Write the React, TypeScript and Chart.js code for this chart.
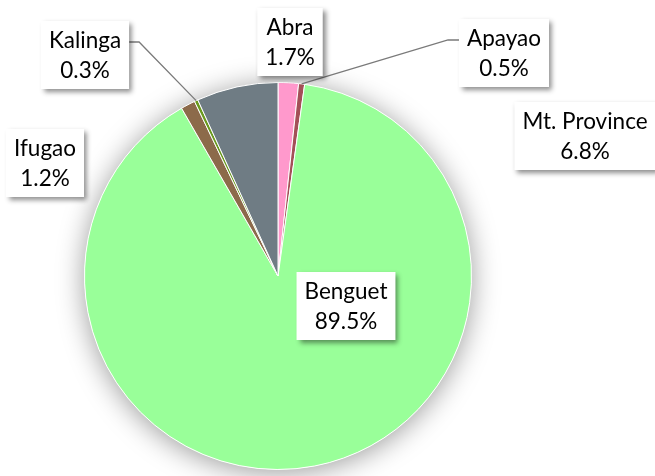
import { useEffect, useRef } from "react";
import { Chart, registerables } from "chart.js";

Chart.register(...registerables);

const provinces = ["Abra", "Apayao", "Benguet", "Ifugao", "Kalinga", "Mt. Province"];
const shares = [1.7, 0.5, 89.5, 1.2, 0.3, 6.8];
const percentLabels = ["1.7%", "0.5%", "89.5%", "1.2%", "0.3%", "6.8%"];
const sliceColors = ["#ff99cc", "#a34f57", "#99ff99", "#8c6a4a", "#6b9a1f", "#6f7c84"];

// label box centre offsets from the pie centre (pixels) and leader line side
const labelOffsets: [number, number][] = [
  [12, -234],
  [226, -223],
  [68, 30],
  [-233, -113],
  [-193, -221],
  [307, -140],
];
const leaderSides: (string | null)[] = [null, "left", null, null, "right", null];

const FONT = "22.5px Lato, 'Open Sans', sans-serif";

const pieShadow = {
  id: "pieShadow",
  beforeDatasetsDraw(chart: any) {
    const arc = chart.getDatasetMeta(0).data[0];
    if (!arc) return;
    const { x, y, outerRadius } = arc.getProps(["x", "y", "outerRadius"], true);
    const ctx = chart.ctx;
    ctx.save();
    ctx.shadowColor = "rgba(0,0,0,0.4)";
    ctx.shadowBlur = 28;
    ctx.shadowOffsetY = 3;
    ctx.fillStyle = "#ffffff";
    ctx.beginPath();
    ctx.arc(x, y, outerRadius, 0, Math.PI * 2);
    ctx.fill();
    ctx.restore();
  },
};

const boxLabels = {
  id: "boxLabels",
  afterDatasetsDraw(chart: any) {
    const meta = chart.getDatasetMeta(0);
    const ctx = chart.ctx;
    ctx.save();
    ctx.font = FONT;
    const boxes = meta.data.map((arc: any, i: number) => {
      const p = arc.getProps(["x", "y", "outerRadius", "startAngle", "endAngle"], true);
      const lines = [provinces[i], percentLabels[i]];
      const w = Math.max(...lines.map((t) => ctx.measureText(t).width)) + 16;
      const h = 68;
      const cx = p.x + labelOffsets[i][0];
      const cy = p.y + labelOffsets[i][1];
      return { p, lines, w, h, cx, cy, left: cx - w / 2, top: cy - h / 2 };
    });
    // leader lines
    boxes.forEach((b: any, i: number) => {
      const side = leaderSides[i];
      if (!side) return;
      const a = (b.p.startAngle + b.p.endAngle) / 2;
      const px = b.p.x + b.p.outerRadius * Math.cos(a);
      const py = b.p.y + b.p.outerRadius * Math.sin(a);
      const ay = b.top + 21;
      const ax = side === "right" ? b.left + b.w : b.left;
      const ex = side === "right" ? ax + 10 : ax - 11;
      ctx.strokeStyle = "#7a7a7a";
      ctx.lineWidth = 1.3;
      ctx.beginPath();
      ctx.moveTo(ax, ay);
      ctx.lineTo(ex, ay);
      ctx.lineTo(px, py);
      ctx.stroke();
    });
    // boxes
    boxes.forEach((b: any) => {
      ctx.save();
      ctx.shadowColor = "rgba(0,0,0,0.45)";
      ctx.shadowBlur = 5;
      ctx.shadowOffsetX = 3;
      ctx.shadowOffsetY = 3;
      ctx.fillStyle = "#ffffff";
      ctx.fillRect(b.left, b.top, b.w, b.h);
      ctx.restore();
      ctx.fillStyle = "#000000";
      ctx.textAlign = "center";
      ctx.textBaseline = "middle";
      ctx.fillText(b.lines[0], b.cx, b.cy - 14);
      ctx.fillText(b.lines[1], b.cx, b.cy + 16);
    });
    ctx.restore();
  },
};

export default function App() {
  const ref = useRef<HTMLCanvasElement>(null);
  useEffect(() => {
    if (!ref.current) return;
    const chart = new Chart(ref.current, {
      type: "pie",
      data: {
        labels: provinces,
        datasets: [
          {
            data: shares,
            backgroundColor: sliceColors,
            borderColor: "#ffffff",
            borderWidth: 1,
          },
        ],
      },
      options: {
        responsive: true,
        maintainAspectRatio: false,
        animation: false,
        layout: { padding: { left: 84, right: 183, top: 82, bottom: 6 } },
        plugins: { legend: { display: false }, tooltip: { enabled: false } },
      },
      plugins: [pieShadow, boxLabels],
    });
    return () => chart.destroy();
  }, []);
  return (
    <div style={{ position: "absolute", left: 0, top: 0, width: 655, height: 476, background: "#fff" }}>
      <canvas ref={ref} />
    </div>
  );
}
